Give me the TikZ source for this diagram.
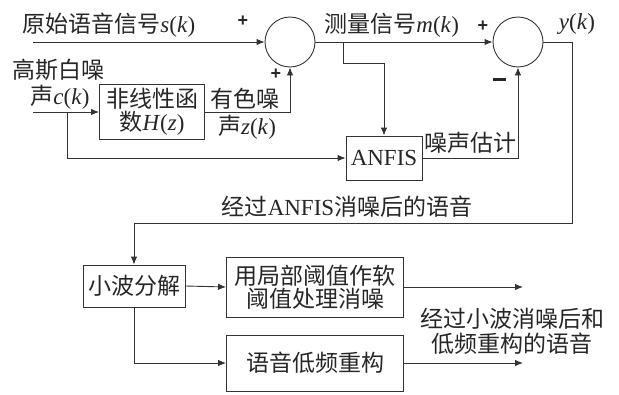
\documentclass[tikz,border=0pt]{standalone}
\usepackage{fontspec}
\setmainfont{Liberation Serif}
\newfontfamily\cjk{Noto Sans CJK SC}
\newfontfamily\sgnfont{Liberation Sans}
\usetikzlibrary{arrows.meta}
\newcommand\zh[1]{{\cjk #1}}
\newcommand\vi[1]{\textit{#1}}
\begin{document}
\begin{tikzpicture}[x=1pt,y=-1pt,
  line width=0.9pt, draw=black!80,
  >={Latex[length=8pt,width=6.5pt]},
  every node/.style={font=\fontsize{23}{27}\selectfont, text=black!85},
  sum/.style={draw, circle, minimum size=50pt, inner sep=0pt},
  blk/.style={draw, rectangle, inner sep=0pt, align=center},
  lbl/.style={inner sep=0pt, align=center},
  sgn/.style={inner sep=0pt, font=\fontsize{18}{18}\selectfont\sgnfont\bfseries}]
\useasboundingbox (0,0) rectangle (619,394);
% summing junctions
\node[sum] (c1) at (290,42) {};
\node[sum] (c2) at (518,42) {};
% blocks
\node[blk, minimum width=105pt, minimum height=55pt] (H) at (152,112) {\zh{非线性函}\\[-4pt]\zh{数}\vi{H}(\vi{z})};
\node[blk, minimum width=76pt, minimum height=44pt] (anfis) at (384,158) {ANFIS};
\node[blk, minimum width=102pt, minimum height=42pt] (wav) at (134,286) {\zh{小波分解}};
\node[blk, minimum width=177pt, minimum height=60pt] (soft) at (315,287) {\zh{用局部阈值作软}\\[-4pt]\zh{阈值处理消噪}};
\node[blk, minimum width=177pt, minimum height=56pt] (rec) at (315,363) {\zh{语音低频重构}};
% free ends and bends
\coordinate (sin) at (33,42);
\coordinate (cin) at (33,112);
\coordinate (cb) at (67,112);
\coordinate (mb) at (343,42);
\coordinate (mb2) at (343,63);
\coordinate (yr) at (572,42);
\coordinate (yd) at (572,223);
\coordinate (o1) at (523,287);
\coordinate (o2) at (523,363);
% connectors
\draw[->] (sin) -- (c1.west);
\draw[->] (c1.east) -- (c2.west);
\draw[->] (mb) -- (mb2) -| (anfis.north);
\draw[->] (cin) -- (H.west);
\draw[->] (cb) |- (anfis.west);
\draw[->] (H.east) -| (c1.south);
\draw[->] (anfis.east) -| (c2.south);
\draw[->] (c2.east) -- (yr) -- (yd) -| (wav.north);
\draw[->] (wav.east) -- (soft.west);
\draw[->] (wav.south) |- (rec.west);
\draw[->] (soft.east) -- (o1);
\draw[->] (rec.east) -- (o2);
% labels
\node[lbl, anchor=west] (ls) at (22,25) {\zh{原始语音信号}\vi{s}(\vi{k})};
\node[sgn] (p1) at (243,21) {+};
\node[lbl, anchor=west] (lm) at (324,25) {\zh{测量信号}\vi{m}(\vi{k})};
\node[sgn] (p2) at (483,26) {+};
\node[lbl] (ly) at (577,24) {\vi{y}(\vi{k})};
\node[lbl, anchor=west] (lg1) at (12,70) {\zh{高斯白噪}};
\node[lbl, anchor=west] (lg2) at (30,97) {\zh{声}\vi{c}(\vi{k})};
\node[sgn] (p3) at (276,74) {+};
\node[lbl] (lz1) at (245,99) {\zh{有色噪}};
\node[lbl] (lz2) at (247,127) {\zh{声}\vi{z}(\vi{k})};
\node[lbl] (le) at (470,143) {\zh{噪声估计}};
\node[inner sep=0pt, minimum width=13pt, minimum height=3pt, fill=black!85] (mn) at (499,79) {};
\node[lbl] (la) at (347,207) {\zh{经过}ANFIS\zh{消噪后的语音}};
\node[lbl] (lw) at (512,331) {\zh{经过小波消噪后和}\\[-2pt]\zh{低频重构的语音}};
\end{tikzpicture}
\end{document}
